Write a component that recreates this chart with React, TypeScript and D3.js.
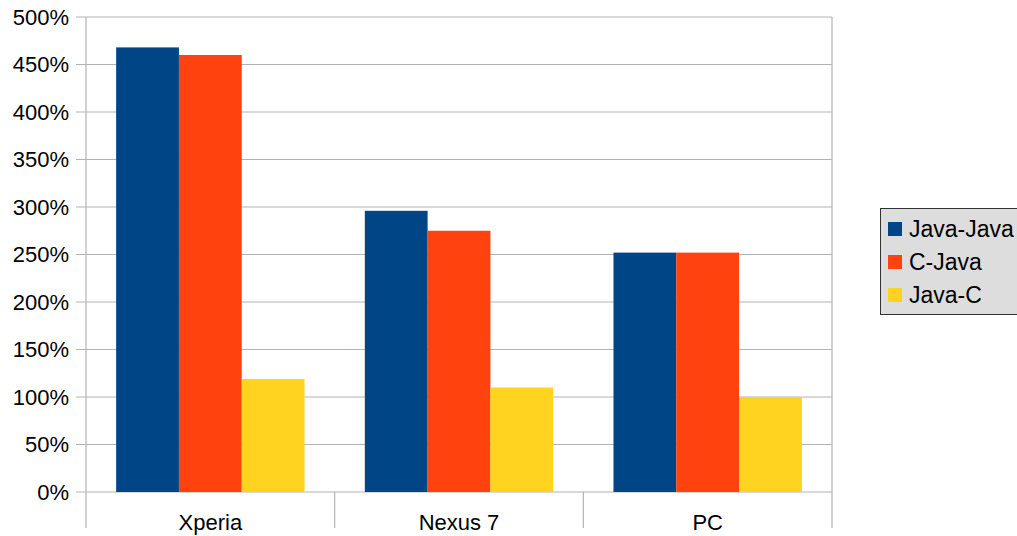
import React from 'react'
import * as d3 from 'd3'

const devices = ['Xperia', 'Nexus 7', 'PC']
const seriesNames = ['Java-Java', 'C-Java', 'Java-C']
const javaJava = [468, 296, 252]
const cJava = [460, 275, 252]
const javaC = [119, 110, 100]
const yTicks = [0, 50, 100, 150, 200, 250, 300, 350, 400, 450, 500]
const colors = ['#004586', '#ff420e', '#ffd320']

const W = 1017
const H = 536
const left = 86
const right = 832
const top = 17
const bottom = 492

export default function App() {
	const values = [javaJava, cJava, javaC]
	const x = d3.scaleBand().domain(devices).range([left, right]).paddingInner(0).paddingOuter(0)
	const xs = d3.scaleBand().domain(seriesNames).range([0, x.bandwidth()]).paddingInner(0).paddingOuter(0.48)
	const y = d3.scaleLinear().domain([0, 500]).range([bottom, top])
	const font = '"Liberation Sans", Arial, sans-serif'

	return (
		<svg width={W} height={H} style={{position: 'absolute', left: 0, top: 0}} fontFamily={font}>
			<rect width={W} height={H} fill="#fff" />
			{/* gridlines + y labels */}
			{yTicks.map(t => (
				<g key={`yt-${t}`}>
					<line x1={76} x2={right} y1={y(t)} y2={y(t)} stroke="#b3b3b3" strokeWidth={1.2} />
					<text x={69} y={y(t)} dy="0.36em" textAnchor="end" fontSize={22} fill="#000">{t}%</text>
				</g>
			))}
			{/* axis + category separators */}
			<line x1={left} x2={left} y1={top} y2={528} stroke="#b3b3b3" strokeWidth={1.2} />
			{devices.map(d => (
				<line key={`sep-${d}`} x1={x(d)! + x.bandwidth()} x2={x(d)! + x.bandwidth()} y1={bottom} y2={528} stroke="#b3b3b3" strokeWidth={1.2} />
			))}
			<line x1={right} x2={right} y1={top} y2={bottom} stroke="#b3b3b3" strokeWidth={1.2} />
			{/* bars */}
			{devices.map((d, i) => (
				<g key={`grp-${d}`} transform={`translate(${x(d)},0)`}>
					{seriesNames.map((s, j) => (
						<rect
							key={`bar-${d}-${s}`}
							x={xs(s)}
							width={xs.bandwidth()}
							y={y(values[j][i])}
							height={bottom - y(values[j][i])}
							fill={colors[j]}
						/>
					))}
				</g>
			))}
			{devices.map(d => (
				<text key={`xl-${d}`} x={x(d)! + x.bandwidth() / 2} y={522} dy="0.36em" textAnchor="middle" fontSize={22} fill="#000">{d}</text>
			))}
			{/* legend */}
			<rect x={880.5} y={208.5} width={145} height={106} fill="#dddddd" stroke="#333" strokeWidth={1} />
			{seriesNames.map((s, j) => (
				<g key={`lg-${s}`} transform={`translate(888,${229 + j * 33})`}>
					<rect x={0} y={-7} width={14} height={14} fill={colors[j]} />
					<text x={21} y={0} dy="0.36em" fontSize={23} fill="#000">{s}</text>
				</g>
			))}
		</svg>
	)
}
